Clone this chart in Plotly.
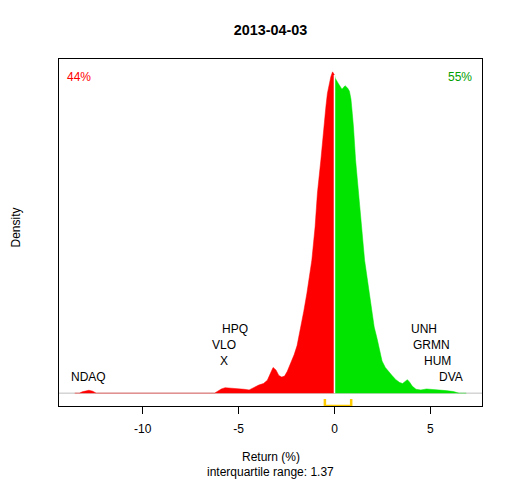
import plotly.graph_objects as go

# density of daily returns (relative units), split at zero
neg_x = [-13.54, -13.3, -13.15, -12.95, -12.8, -12.6, -12.42, -6.25,
         -6.1, -5.9, -5.7, -5.4, -5.0, -4.7, -4.45, -4.2, -3.95, -3.7, -3.5,
         -3.35, -3.2, -3.05, -2.9, -2.75, -2.6, -2.46, -2.3, -2.1, -1.95,
         -1.74, -1.6, -1.44, -1.3, -1.18, -1.01, -0.89, -0.71, -0.57,
         -0.45, -0.37, -0.28, -0.19, -0.1, 0.0]
neg_y = [0.0, 0.0, 0.004, 0.008, 0.009, 0.006, 0.0, 0.0,
         0.006, 0.013, 0.017, 0.016, 0.014, 0.012, 0.01, 0.018, 0.025, 0.03, 0.04,
         0.06, 0.08, 0.072, 0.055, 0.05, 0.053, 0.068, 0.09, 0.12, 0.148,
         0.206, 0.255, 0.31, 0.36, 0.414, 0.518, 0.622, 0.726, 0.829,
         0.89, 0.933, 0.965, 0.985, 1.0, 0.99]

pos_x = [0.0, 0.04, 0.2, 0.39, 0.55, 0.68, 0.78, 0.86, 0.93, 0.99, 1.1,
         1.25, 1.41, 1.57, 1.7, 1.83, 1.95, 2.07, 2.22, 2.35, 2.48, 2.65,
         2.8, 3.0, 3.2, 3.4, 3.55, 3.7, 3.8, 3.92, 4.05, 4.25, 4.5, 4.8,
         5.1, 5.4, 5.8, 6.2, 6.5, 6.87]
pos_y = [0.99, 0.98, 0.964, 0.946, 0.957, 0.95, 0.94, 0.915, 0.87, 0.829, 0.726,
         0.622, 0.518, 0.414, 0.36, 0.31, 0.26, 0.206, 0.17, 0.13, 0.1, 0.08,
         0.068, 0.055, 0.042, 0.033, 0.03, 0.038, 0.042, 0.034, 0.022, 0.012, 0.01, 0.013,
         0.012, 0.01, 0.008, 0.005, 0.0, 0.0]

# labelled outliers
stocks = ["NDAQ", "X", "VLO", "HPQ", "UNH", "GRMN", "HUM", "DVA"]
stock_ret = [-12.82, -5.74, -5.76, -5.19, 4.65, 5.05, 5.39, 6.05]
stock_lvl = [0.05, 0.1, 0.15, 0.2, 0.2, 0.15, 0.1, 0.05]

tick_vals = [-10, -5, 0, 5]
tick_text = ["-10", "-5", "0", "5"]

quartiles = [-0.5, 0.87]
pct_down = "44%"
pct_up = "55%"
iqr = 1.37

FONT = "Liberation Sans, Arial, sans-serif"
ymax = max(neg_y + pos_y)
x_lo, x_hi = -14.36, 7.69

fig = go.Figure()

fig.add_trace(go.Scatter(
    x=neg_x, y=neg_y, mode='lines', fill='tozeroy',
    fillcolor='#FF0000', line=dict(color='#FF0000', width=0.5),
    hoverinfo='skip'
))
fig.add_trace(go.Scatter(
    x=pos_x, y=pos_y, mode='lines', fill='tozeroy',
    fillcolor='#00E400', line=dict(color='#00E400', width=0.5),
    hoverinfo='skip'
))

# white divider at zero
fig.add_trace(go.Scatter(
    x=[0, 0], y=[0, pos_y[0]], mode='lines',
    line=dict(color='white', width=1.5), hoverinfo='skip'
))

# interquartile bracket
fig.add_trace(go.Scatter(
    x=[quartiles[0], quartiles[0], quartiles[1], quartiles[1]],
    y=[-0.018 * ymax, -0.04 * ymax, -0.04 * ymax, -0.018 * ymax],
    mode='lines', line=dict(color='#FFCC00', width=2.5),
    cliponaxis=False, hoverinfo='skip'
))

# gray zero line
fig.add_shape(type='line', xref='paper', x0=0, x1=1, y0=0, y1=0,
              line=dict(color='#BEBEBE', width=1), layer='below')

for name, r, lvl in zip(stocks, stock_ret, stock_lvl):
    fig.add_annotation(x=r, y=lvl * ymax, text=name, showarrow=False,
                       font=dict(family=FONT, size=12, color='black'))

fig.add_annotation(xref='paper', yref='paper', x=0.015, y=0.947,
                   text=pct_down, showarrow=False, xanchor='left', yanchor='middle',
                   font=dict(family=FONT, size=12, color='#FF0000'))
fig.add_annotation(xref='paper', yref='paper', x=0.98, y=0.947,
                   text=pct_up, showarrow=False, xanchor='right', yanchor='middle',
                   font=dict(family=FONT, size=12, color='#00A000'))

fig.add_annotation(xref='paper', yref='paper', x=0.5, y=-0.146,
                   text='Return (%)', showarrow=False,
                   xanchor='center', yanchor='middle',
                   font=dict(family=FONT, size=12, color='black'))
fig.add_annotation(xref='paper', yref='paper', x=0.5, y=-0.189,
                   text='interquartile range: %.2f' % iqr, showarrow=False,
                   xanchor='center', yanchor='middle',
                   font=dict(family=FONT, size=12, color='black'))
fig.add_annotation(xref='paper', yref='paper', x=-0.102, y=0.514,
                   text='Density', showarrow=False, textangle=-90,
                   xanchor='center', yanchor='middle',
                   font=dict(family=FONT, size=12, color='black'))

# page body has an 8px margin, so the figure is 8px smaller each way
fig.update_layout(
    width=504, height=472,
    margin=dict(l=51, r=30, t=51, b=74),
    paper_bgcolor='white', plot_bgcolor='white',
    showlegend=False,
    title=dict(text='<b>2013-04-03</b>', xref='paper', x=0.5, xanchor='center',
               y=1 - 22 / 472, yanchor='middle',
               font=dict(family=FONT, size=14.4, color='black')),
    xaxis=dict(range=[x_lo, x_hi], tickvals=tick_vals, ticktext=tick_text,
               ticks='outside', ticklen=7, tickcolor='black',
               showline=True, linecolor='black', linewidth=1, mirror=True,
               showgrid=False, zeroline=False, ticklabelstandoff=5,
               tickfont=dict(family=FONT, size=12, color='black')),
    yaxis=dict(range=[-0.04 * ymax, 1.04 * ymax], showticklabels=False,
               ticks='', showline=True, linecolor='black', linewidth=1,
               mirror=True, showgrid=False, zeroline=False),
)

fig.write_html("out.html")
